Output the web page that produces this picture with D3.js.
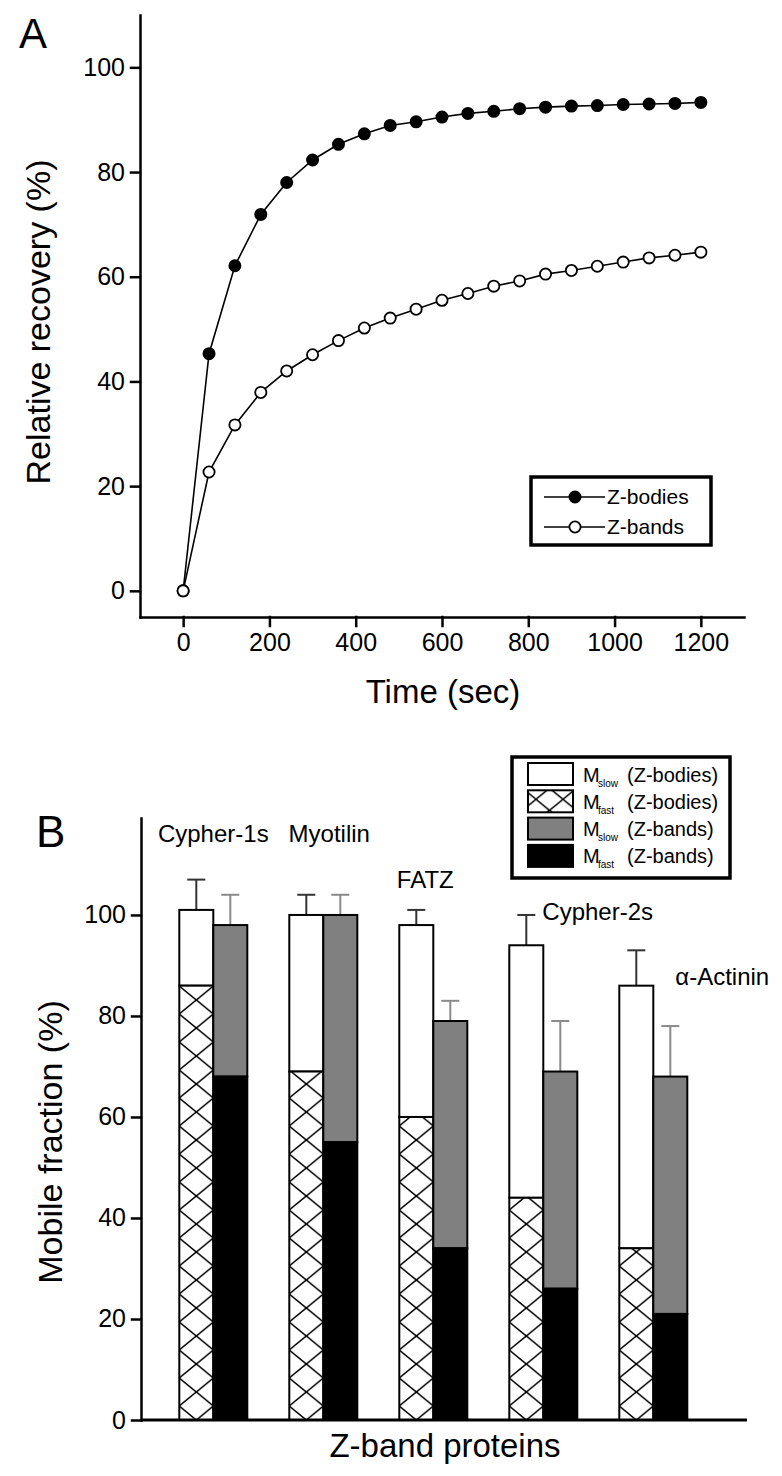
<!DOCTYPE html>
<html>
<head>
<meta charset="utf-8">
<script src="https://cdn.jsdelivr.net/npm/d3@7"></script>
<style>
  body { margin: 0; background: #fff; }
  svg { display: block; font-family: "Liberation Sans", Arial, sans-serif; }
  .axis path, .axis line { stroke: #000; stroke-width: 2.5; stroke-linecap: square; }
  .axis text { fill: #000; }
</style>
</head>
<body>
<svg id="svg" width="782" height="1476"></svg>
<script>
// Panel A: FRAP recovery curves
const times = [0, 60, 120, 180, 240, 300, 360, 420, 480, 540, 600, 660, 720, 780, 840, 900, 960, 1020, 1080, 1140, 1200];
const zBodies = [0, 45.3, 62.1, 71.9, 78.0, 82.3, 85.3, 87.3, 88.9, 89.6, 90.5, 91.2, 91.6, 92.1, 92.4, 92.6, 92.7, 92.9, 93.0, 93.1, 93.3];
const zBands = [0, 22.7, 31.7, 37.9, 42.0, 45.1, 47.8, 50.2, 52.1, 53.8, 55.5, 56.8, 58.2, 59.2, 60.5, 61.2, 62.0, 62.8, 63.6, 64.1, 64.7];
const timeTicks = [0, 200, 400, 600, 800, 1000, 1200];
const recoveryTicks = [0, 20, 40, 60, 80, 100];

// Panel B: mobile fractions
const proteins = ["Cypher-1s", "Myotilin", "FATZ", "Cypher-2s", "α-Actinin"];
const bodiesTotal = [101, 100, 98, 94, 86];
const bodiesErr = [6, 4, 3, 6, 7];
const bodiesFast = [86, 69, 60, 44, 34];
const bandsTotal = [98, 100, 79, 69, 68];
const bandsErr = [6, 4, 4, 10, 10];
const bandsFast = [68, 55, 34, 26, 21];
const fractionTicks = [0, 20, 40, 60, 80, 100];

// annotation placement for protein names (data units / offsets)
const nameLayout = [
  { y: 114.5, dx: 0, anchor: "middle" },
  { y: 114.5, dx: 6, anchor: "middle" },
  { y: 105.3, dx: -8, anchor: "middle" },
  { y: 99.0, dx: -1, anchor: "start" },
  { y: 86.1, dx: 22, anchor: "start" }
];

const svg = d3.select("svg#svg");
const font = "'Liberation Sans', Arial, sans-serif";

svg.append("rect").attr("width", 782).attr("height", 1476).attr("fill", "#fff");

// ---------- Panel A ----------
const xA = d3.scaleLinear().domain([-100, 1300]).range([140, 744]);
const yA = d3.scaleLinear().domain([-5, 110]).range([617, 15]);

const gA = svg.append("g");

gA.append("g")
  .attr("class", "axis")
  .attr("transform", "translate(0,617)")
  .call(d3.axisBottom(xA).tickValues(timeTicks).tickFormat(d3.format("d"))
    .tickSize(9).tickPadding(7).tickSizeOuter(0))
  .attr("font-size", 25).attr("font-family", font);

gA.append("g")
  .attr("class", "axis")
  .attr("transform", "translate(140,0)")
  .call(d3.axisLeft(yA).tickValues(recoveryTicks).tickFormat(d3.format("d"))
    .tickSize(9).tickPadding(6).tickSizeOuter(0))
  .attr("font-size", 25).attr("font-family", font);

const series = [
  { name: "Z-bodies", values: zBodies, fill: "#000" },
  { name: "Z-bands", values: zBands, fill: "#fff" }
];

const line = d3.line()
  .x((d, i) => xA(times[i]))
  .y(d => yA(d));

series.forEach(function(s) {
  gA.append("path")
    .attr("d", line(s.values))
    .attr("fill", "none")
    .attr("stroke", "#000")
    .attr("stroke-width", 1.6);

  gA.selectAll(null)
    .data(s.values)
    .enter()
    .append("circle")
    .attr("cx", (d, i) => xA(times[i]))
    .attr("cy", d => yA(d))
    .attr("r", 5.6)
    .attr("fill", s.fill)
    .attr("stroke", "#000")
    .attr("stroke-width", 1.8);
});

gA.append("text")
  .attr("transform", "translate(50,322) rotate(-90)")
  .attr("text-anchor", "middle")
  .attr("font-size", 34)
  .text("Relative recovery (%)");

gA.append("text")
  .attr("x", 443).attr("y", 703)
  .attr("text-anchor", "middle")
  .attr("font-size", 33)
  .text("Time (sec)");

gA.append("text")
  .attr("x", 19).attr("y", 48)
  .attr("font-size", 42)
  .text("A");

// legend A
const legA = gA.append("g").attr("transform", "translate(531,477)");
legA.append("rect")
  .attr("width", 180).attr("height", 68)
  .attr("fill", "#fff").attr("stroke", "#000").attr("stroke-width", 3.5);

series.forEach(function(s, i) {
  const row = legA.append("g").attr("transform", "translate(0," + (20 + i * 30) + ")");
  row.append("line")
    .attr("x1", 13).attr("x2", 74)
    .attr("stroke", "#000").attr("stroke-width", 1.6);
  row.append("circle")
    .attr("cx", 44).attr("r", 5.6)
    .attr("fill", s.fill).attr("stroke", "#000").attr("stroke-width", 1.8);
  row.append("text")
    .attr("x", 76).attr("y", 7)
    .attr("font-size", 21)
    .text(s.name);
});

// ---------- Panel B ----------
const xB = d3.scaleBand().domain(proteins).range([158.3, 708.3]).paddingInner(0.3818).paddingOuter(0.1909);
const bw = xB.bandwidth() / 2;
const yB = d3.scaleLinear().domain([0, 119.2]).range([1420, 818]);

const gB = svg.append("g");
const defs = svg.append("defs");

// one hatch pattern per protein, anchored on the bar
proteins.forEach(function(p, i) {
  const pat = defs.append("pattern")
    .attr("id", "hatch" + i)
    .attr("patternUnits", "userSpaceOnUse")
    .attr("x", xB(p)).attr("y", yB(0))
    .attr("width", bw).attr("height", 28);
  pat.append("rect").attr("width", bw).attr("height", 28).attr("fill", "#fff");
  pat.append("path")
    .attr("d", "M" + bw / 2 + ",0L" + bw + ",14L" + bw / 2 + ",28L0,14Z")
    .attr("fill", "none").attr("stroke", "#000").attr("stroke-width", 1.6);
});

const legHatch = defs.append("pattern")
  .attr("id", "hatchLegend")
  .attr("patternUnits", "userSpaceOnUse")
  .attr("x", 537).attr("y", 790)
  .attr("width", 27).attr("height", 22);
legHatch.append("rect").attr("width", 27).attr("height", 22).attr("fill", "#fff");
legHatch.append("path")
  .attr("d", "M13.5,0L27,11L13.5,22L0,11Z")
  .attr("fill", "none").attr("stroke", "#000").attr("stroke-width", 1.6);

const rows = proteins.map((p, i) => ({
  p: p, i: i,
  bTot: bodiesTotal[i], bErr: bodiesErr[i], bFast: bodiesFast[i],
  nTot: bandsTotal[i], nErr: bandsErr[i], nFast: bandsFast[i]
}));

// error bars first so the bar outline sits on top
const errBars = [];
rows.forEach(function(r) {
  errBars.push({ x: xB(r.p) + bw / 2, top: r.bTot, err: r.bErr, color: "#333" });
  errBars.push({ x: xB(r.p) + bw * 1.5, top: r.nTot, err: r.nErr, color: "#8a8a8a" });
});

const eb = gB.selectAll("g.err").data(errBars).enter().append("g").attr("class", "err");
eb.append("line")
  .attr("x1", d => d.x).attr("x2", d => d.x)
  .attr("y1", d => yB(d.top)).attr("y2", d => yB(d.top + d.err))
  .attr("stroke", d => d.color).attr("stroke-width", 2);
eb.append("line")
  .attr("x1", d => d.x - 9).attr("x2", d => d.x + 9)
  .attr("y1", d => yB(d.top + d.err)).attr("y2", d => yB(d.top + d.err))
  .attr("stroke", d => d.color).attr("stroke-width", 2);

const bars = gB.selectAll("g.bar").data(rows).enter().append("g").attr("class", "bar");

// Z-bodies: M_slow (white) on top of M_fast (hatched)
bars.append("rect")
  .attr("x", d => xB(d.p)).attr("width", bw)
  .attr("y", d => yB(d.bTot)).attr("height", d => yB(d.bFast) - yB(d.bTot))
  .attr("fill", "#fff").attr("stroke", "#000").attr("stroke-width", 2);
bars.append("rect")
  .attr("x", d => xB(d.p)).attr("width", bw)
  .attr("y", d => yB(d.bFast)).attr("height", d => yB(0) - yB(d.bFast))
  .attr("fill", d => "url(#hatch" + d.i + ")").attr("stroke", "#000").attr("stroke-width", 2);

// Z-bands: M_slow (grey) on top of M_fast (black)
bars.append("rect")
  .attr("x", d => xB(d.p) + bw).attr("width", bw)
  .attr("y", d => yB(d.nTot)).attr("height", d => yB(d.nFast) - yB(d.nTot))
  .attr("fill", "#808080").attr("stroke", "#000").attr("stroke-width", 2);
bars.append("rect")
  .attr("x", d => xB(d.p) + bw).attr("width", bw)
  .attr("y", d => yB(d.nFast)).attr("height", d => yB(0) - yB(d.nFast))
  .attr("fill", "#000").attr("stroke", "#000").attr("stroke-width", 2);

// protein names
bars.append("text")
  .attr("x", d => xB(d.p) + bw + nameLayout[d.i].dx)
  .attr("y", d => yB(nameLayout[d.i].y))
  .attr("text-anchor", d => nameLayout[d.i].anchor)
  .attr("font-size", 24)
  .text(d => d.p);

// axes
gB.append("g")
  .attr("class", "axis")
  .attr("transform", "translate(141,0)")
  .call(d3.axisLeft(yB).tickValues(fractionTicks).tickFormat(d3.format("d"))
    .tickSize(9).tickPadding(6).tickSizeOuter(0))
  .attr("font-size", 25).attr("font-family", font);

gB.append("line")
  .attr("x1", 141).attr("x2", 747)
  .attr("y1", yB(0)).attr("y2", yB(0))
  .attr("stroke", "#000").attr("stroke-width", 3);

gB.append("text")
  .attr("transform", "translate(62,1142) rotate(-90)")
  .attr("text-anchor", "middle")
  .attr("font-size", 34)
  .text("Mobile fraction (%)");

gB.append("text")
  .attr("x", 445).attr("y", 1457)
  .attr("text-anchor", "middle")
  .attr("font-size", 33)
  .text("Z-band proteins");

gB.append("text")
  .attr("x", 36).attr("y", 847)
  .attr("font-size", 44)
  .text("B");

// legend B
const legendB = [
  { sub: "slow", label: "(Z-bodies)", fill: "#fff" },
  { sub: "fast", label: "(Z-bodies)", fill: "url(#hatchLegend)" },
  { sub: "slow", label: "(Z-bands)", fill: "#808080" },
  { sub: "fast", label: "(Z-bands)", fill: "#000" }
];

const legB = gB.append("g").attr("transform", "translate(512,757)");
legB.append("rect")
  .attr("width", 218).attr("height", 121)
  .attr("fill", "#fff").attr("stroke", "#000").attr("stroke-width", 3.5);

const legRows = legB.selectAll("g.lrow").data(legendB).enter().append("g")
  .attr("class", "lrow")
  .attr("transform", (d, i) => "translate(0," + (6 + i * 27.3) + ")");

legRows.append("rect")
  .attr("x", 16).attr("width", 45).attr("height", 22)
  .attr("fill", d => d.fill).attr("stroke", "#000").attr("stroke-width", 2);

const lt = legRows.append("text").attr("y", 18.5).attr("font-size", 20);
lt.append("tspan").attr("x", 71).text("M");
lt.append("tspan").attr("x", 86).attr("dy", 5).attr("font-size", 10).text(d => d.sub);
lt.append("tspan").attr("x", 115).attr("dy", -5).text(d => d.label);
</script>
</body>
</html>
